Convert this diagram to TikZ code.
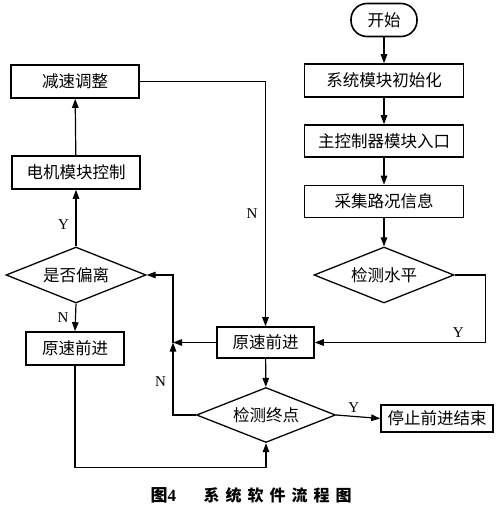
\documentclass[tikz,border=0pt]{standalone}
\usepackage{fontspec}
\setmainfont{Liberation Serif}
\newfontfamily\cjk{Noto Sans CJK SC}
\usetikzlibrary{shapes.geometric,arrows.meta,positioning}

\begin{document}
\begin{tikzpicture}[x=1pt, y=1pt, node distance=60.5pt, >={Stealth[length=9pt,width=6.5pt,inset=0pt]}, line width=1.2pt,
    box/.style={rectangle, draw, line width=1.6pt, minimum height=33pt, inner sep=0pt, font=\cjk\fontsize{16.5}{18}\selectfont},
    decide/.style={diamond, draw, line width=1.3pt, aspect=2.5, inner sep=0pt, minimum width=140pt, minimum height=56pt, font=\cjk\fontsize{16.5}{18}\selectfont},
    lbl/.style={font=\fontsize{15}{17}\selectfont},
    captext/.style={anchor=west, inner sep=0pt, font=\cjk\bfseries\fontsize{16}{18}\selectfont}]
    \useasboundingbox (0,0) rectangle (503,-511);

    % right column
    \node[box, rounded corners=16pt, minimum width=66pt] (start) at (384,-20) {开始};
    \node[box, minimum width=159pt, below of=start] (init) {系统模块初始化};
    \node[box, minimum width=159pt, minimum height=32pt, below of=init] (entry) {主控制器模块入口};
    \node[box, minimum width=159pt, minimum height=32pt, below of=entry] (collect) {采集路况信息};
    \node[decide] (level) at (384,-275) {检测水平};

    % middle
    \node[box, minimum width=97pt, minimum height=31pt] (fwd) at (265.5,-342.5) {原速前进};
    \node[decide, minimum width=139pt, minimum height=55pt] (goal) at (266,-415) {检测终点};
    \node[box, minimum width=112pt, minimum height=27pt] (stop) at (437,-418.5) {停止前进结束};
    \coordinate (jn) at (173,-342.5);

    % left column
    \node[box, minimum width=128pt] (slow) at (75,-81.5) {减速调整};
    \node[box, minimum width=128pt] (motor) at (76,-172.5) {电机模块控制};
    \node[decide] (devi) at (76,-275) {是否偏离};
    \node[box, minimum width=98pt] (fwdleft) at (75,-348.5) {原速前进};

    \draw[->] (start) -- (init);
    \draw[->] (init) -- (entry);
    \draw[->] (entry) -- (collect);
    \draw[->] (collect) -- (level);
    \draw[->] (level.east) -- ++(31,0) |- node[lbl, pos=0.58, above=1pt] {Y} (fwd.east);
    \draw[->] (slow.east) -| node[lbl, pos=0.77, left=4pt] {N} (fwd.north);
    \draw[->] (fwd.west) -- (jn);
    \draw[->] (jn) |- (devi.east);
    \draw[->] (goal.west) -| node[lbl, pos=0.73, left=3pt] {N} (jn);
    \draw[->] (fwd) -- (goal);
    \draw[->] (goal.east) -- node[lbl, pos=0.4, above=0pt] {Y} (stop.west);
    \draw[->] (devi.south) -- node[lbl, left=3pt] {N} (fwdleft.north);
    \draw[->] (devi.north) -- node[lbl, pos=0.38, left=3pt] {Y} (motor.south);
    \draw[->] (motor) -- (slow);
    \draw[->] (fwdleft.south) -- ++(0,-102) -| (goal.south);

    % caption
    \node[captext, font=\cjk\bfseries\fontsize{17}{18}\selectfont] (fignum) at (150,-495.5) {图\textrm{\bfseries 4}};
    \node[captext] (figtitle) at (203,-495.5) {系\hspace{6pt}统\hspace{6pt}软\hspace{6pt}件\hspace{6pt}流\hspace{6pt}程\hspace{6pt}图};
\end{tikzpicture}
\end{document}
